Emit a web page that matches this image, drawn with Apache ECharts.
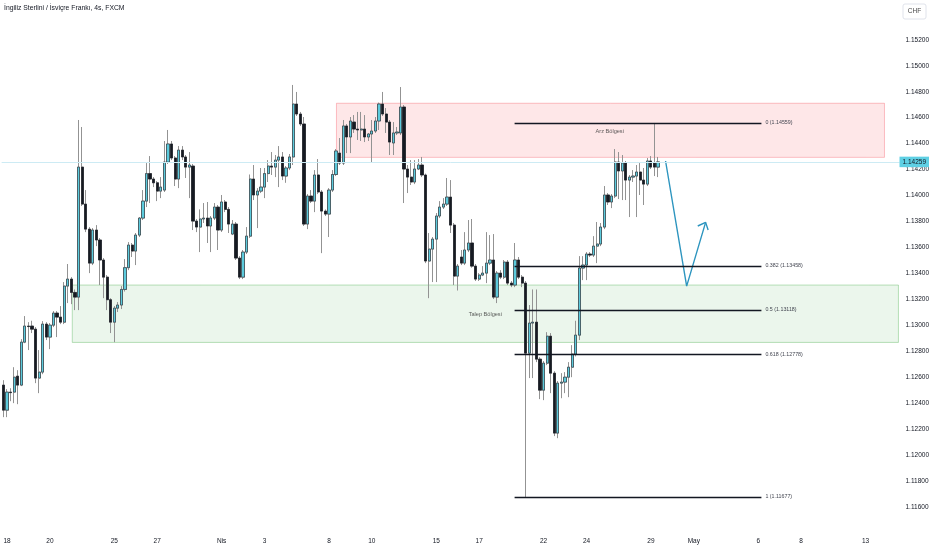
<!DOCTYPE html>
<html>
<head>
<meta charset="utf-8">
<script src="https://cdn.jsdelivr.net/npm/echarts@6/dist/echarts.min.js"></script>
<style>html,body{margin:0;padding:0;background:#fff}#c{width:932px;height:550px}</style>
</head>
<body>
<div id="c"></div>
<script>
const titleText = 'İngiliz Sterlini / İsviçre Frankı, 4s, FXCM';
const days = ['15 Mar','18 Mar','19 Mar','20 Mar','21 Mar','22 Mar','25 Mar','26 Mar','27 Mar','28 Mar','29 Mar',
  '1 Apr','2 Apr','3 Apr','4 Apr','5 Apr','8 Apr','9 Apr','10 Apr','11 Apr','12 Apr','15 Apr','16 Apr','17 Apr','18 Apr','19 Apr',
  '22 Apr','23 Apr','24 Apr','25 Apr','26 Apr','29 Apr','30 Apr','1 May','2 May','3 May','6 May','7 May','8 May','9 May','10 May',
  '13 May','14 May','15 May'];
const hours = ['00:00','04:00','08:00','12:00','16:00','20:00'];
const tickDays  = ['18 Mar','20 Mar','25 Mar','27 Mar','1 Apr','3 Apr','8 Apr','10 Apr','15 Apr','17 Apr','22 Apr','24 Apr','29 Apr','1 May','6 May','8 May','13 May'];
const tickTexts = ['18','20','25','27','Nis','3','8','10','15','17','22','24','29','May','6','8','13'];
const yTicks = {min: 1.114, step: 0.002, labelFrom: 1.116, labelTo: 1.152};

const opens = [1.12539,1.12346,1.12485,1.12485,1.12608,1.12539,1.12870,1.12994,1.12994,1.12970,1.12593,1.12639,1.13009,1.12909,1.13001,1.13094,1.13063,1.13024,1.13302,1.13356,1.13253,1.13217,1.14219,1.13934,1.13741,1.13479,1.13734,1.13657,1.13503,1.13371,1.13197,1.13024,1.13132,1.13156,1.13276,1.13444,1.13618,1.13572,1.13695,1.13826,1.13957,1.14169,1.14127,1.14098,1.14034,1.14042,1.14258,1.14397,1.14289,1.14127,1.14350,1.14297,1.14219,1.14227,1.13803,1.13757,1.13819,1.13826,1.13765,1.13826,1.13911,1.13734,1.13950,1.13893,1.13703,1.13780,1.13518,1.13371,1.13564,1.13687,1.14127,1.14004,1.14034,1.14065,1.14169,1.14227,1.14219,1.14273,1.14297,1.14150,1.14212,1.14297,1.14705,1.14628,1.14551,1.13780,1.13996,1.13957,1.14158,1.14027,1.13880,1.13857,1.14042,1.14162,1.14327,1.14250,1.14536,1.14451,1.14566,1.14512,1.14505,1.14512,1.14451,1.14474,1.14497,1.14574,1.14705,1.14628,1.14566,1.14405,1.14482,1.14482,1.14682,1.14204,1.14142,1.14104,1.14204,1.14235,1.14158,1.13495,1.13587,1.13664,1.13842,1.13911,1.13934,1.13988,1.13772,1.13379,1.13526,1.13479,1.13580,1.13634,1.13456,1.13356,1.13387,1.13402,1.13479,1.13503,1.13217,1.13402,1.13371,1.13487,1.13325,1.13310,1.13503,1.13371,1.13325,1.12785,1.13017,1.13024,1.12739,1.12500,1.12708,1.12916,1.12631,1.12169,1.12554,1.12562,1.12600,1.12677,1.12778,1.12924,1.13441,1.13464,1.13549,1.13541,1.13610,1.13626,1.13757,1.14004,1.13950,1.13996,1.14258,1.14189,1.14250,1.14119,1.14142,1.14150,1.14181,1.14119,1.14088,1.14266,1.14250,1.14219];
const closes = [1.12346,1.12485,1.12481,1.12600,1.12539,1.12870,1.12994,1.12990,1.12970,1.12593,1.12639,1.13009,1.12909,1.13001,1.13094,1.13063,1.13024,1.13302,1.13356,1.13253,1.13217,1.14219,1.13934,1.13741,1.13479,1.13734,1.13657,1.13503,1.13371,1.13197,1.13024,1.13132,1.13156,1.13276,1.13444,1.13618,1.13572,1.13695,1.13826,1.13957,1.14169,1.14127,1.14098,1.14034,1.14065,1.14258,1.14397,1.14289,1.14127,1.14350,1.14297,1.14219,1.14235,1.13803,1.13757,1.13819,1.13826,1.13765,1.13826,1.13911,1.13734,1.13950,1.13893,1.13780,1.13780,1.13518,1.13371,1.13564,1.13687,1.14127,1.14004,1.14034,1.14065,1.14169,1.14227,1.14219,1.14273,1.14297,1.14150,1.14212,1.14297,1.14705,1.14628,1.14551,1.13780,1.13996,1.13957,1.14158,1.14027,1.13880,1.13857,1.14042,1.14162,1.14343,1.14250,1.14536,1.14451,1.14574,1.14512,1.14505,1.14512,1.14451,1.14474,1.14497,1.14574,1.14705,1.14628,1.14566,1.14412,1.14482,1.14489,1.14682,1.14204,1.14142,1.14104,1.14204,1.14235,1.14158,1.13495,1.13587,1.13664,1.13842,1.13911,1.13934,1.13988,1.13772,1.13379,1.13456,1.13479,1.13580,1.13634,1.13456,1.13356,1.13387,1.13402,1.13479,1.13503,1.13217,1.13402,1.13371,1.13487,1.13325,1.13310,1.13503,1.13371,1.13325,1.12785,1.13017,1.13024,1.12739,1.12500,1.12708,1.12916,1.12631,1.12169,1.12554,1.12562,1.12600,1.12677,1.12778,1.12924,1.13441,1.13464,1.13549,1.13541,1.13610,1.13626,1.13757,1.14004,1.13950,1.13996,1.14258,1.14189,1.14250,1.14119,1.14142,1.14150,1.14181,1.14119,1.14088,1.14266,1.14219,1.14219,1.14259];
const lows   = [1.12292,1.12292,1.12415,1.12400,1.12392,1.12531,1.12862,1.12809,1.12940,1.12554,1.12477,1.12623,1.12886,1.12816,1.12986,1.12909,1.13009,1.13009,1.13171,1.13163,1.13117,1.13117,1.13919,1.13718,1.13402,1.13464,1.13610,1.13310,1.13209,1.13117,1.12940,1.12870,1.13102,1.13125,1.13260,1.13425,1.13526,1.13464,1.13680,1.13811,1.13911,1.13942,1.14065,1.13957,1.13980,1.14027,1.14243,1.14273,1.14073,1.14057,1.14273,1.14135,1.13980,1.13734,1.13718,1.13564,1.13788,1.13634,1.13564,1.13811,1.13580,1.13719,1.13872,1.13711,1.13695,1.13503,1.13356,1.13356,1.13549,1.13672,1.13965,1.13749,1.14019,1.13980,1.14104,1.14158,1.14142,1.14065,1.14119,1.14098,1.14196,1.14235,1.14613,1.14536,1.13765,1.13741,1.13942,1.13872,1.14011,1.13556,1.13842,1.13680,1.14027,1.14150,1.14235,1.14235,1.14327,1.14327,1.14482,1.14428,1.14420,1.14412,1.14420,1.14258,1.14482,1.14505,1.14613,1.14482,1.14312,1.14312,1.14466,1.14466,1.13942,1.14019,1.14081,1.14088,1.14196,1.14142,1.13479,1.13209,1.13333,1.13333,1.13826,1.13896,1.13919,1.13711,1.13310,1.13268,1.13464,1.13464,1.13564,1.13444,1.13341,1.13341,1.13379,1.13325,1.13464,1.13202,1.13171,1.13356,1.13356,1.13310,1.13294,1.13294,1.13356,1.13294,1.11677,1.12593,1.12593,1.12716,1.12431,1.12423,1.12693,1.12477,1.12146,1.12130,1.12438,1.12477,1.12446,1.12600,1.12760,1.12886,1.13348,1.13348,1.13526,1.13526,1.13479,1.13610,1.13741,1.13927,1.13903,1.13980,1.13973,1.13965,1.13965,1.13834,1.14104,1.13834,1.14004,1.13927,1.14073,1.14204,1.14150,1.14142];
const highs  = [1.12577,1.12508,1.12515,1.12677,1.12654,1.12893,1.13071,1.13024,1.13035,1.12986,1.12809,1.13032,1.13024,1.13017,1.13109,1.13109,1.13148,1.13333,1.13472,1.13371,1.13276,1.14582,1.14528,1.14042,1.13757,1.13749,1.13772,1.13672,1.13518,1.13387,1.13209,1.13148,1.13179,1.13302,1.13510,1.13641,1.13634,1.13711,1.13834,1.14042,1.14250,1.14304,1.14142,1.14111,1.14142,1.14420,1.14505,1.14420,1.14304,1.14381,1.14381,1.14312,1.14335,1.14243,1.13819,1.13893,1.13942,1.13950,1.13842,1.13942,1.13927,1.14004,1.13965,1.13911,1.13811,1.13796,1.13533,1.13580,1.13757,1.14162,1.14235,1.14057,1.14212,1.14212,1.14273,1.14335,1.14312,1.14381,1.14335,1.14227,1.14320,1.14852,1.14798,1.14644,1.14605,1.14011,1.14042,1.14196,1.14281,1.14042,1.13893,1.14057,1.14196,1.14358,1.14443,1.14582,1.14551,1.14605,1.14620,1.14644,1.14644,1.14620,1.14482,1.14582,1.14605,1.14716,1.14798,1.14674,1.14582,1.14566,1.14528,1.14836,1.14697,1.14235,1.14273,1.14273,1.14281,1.14297,1.14169,1.13711,1.13680,1.13865,1.13957,1.13980,1.14135,1.14119,1.13788,1.13472,1.13580,1.13718,1.13811,1.13819,1.13472,1.13402,1.13456,1.13718,1.13695,1.13703,1.13418,1.13425,1.13503,1.13503,1.13341,1.13634,1.13526,1.13387,1.13341,1.13156,1.13276,1.13276,1.12754,1.12724,1.12947,1.12940,1.12646,1.12570,1.12631,1.12639,1.12716,1.12847,1.13035,1.13533,1.13533,1.13564,1.13564,1.13687,1.13796,1.13788,1.14073,1.14019,1.14011,1.14358,1.14335,1.14312,1.14266,1.14158,1.14196,1.14235,1.14250,1.14212,1.14289,1.14304,1.14559,1.14297];

// annotations (x in bar slots of the chart, y in price)
const supplyZone = {x0: 93.1, x1: 246.3, top: 1.14711, bottom: 1.14294, name: 'Arz Bölgesi', labelX: 169.5, labelY: 1.14497};
const demandZone = {x0: 19.25, x1: 250.2, top: 1.13310, bottom: 1.12868, name: 'Talep Bölgesi', labelX: 134.7, labelY: 1.13086};
const fibRatios = ['0','0.382','0.5','0.618','1'];
const fibPrices = [1.14559, 1.13458, 1.13118, 1.12778, 1.11677];
const fibStart = 142.9, fibEnd = 211.9;
const arrowX = [185.1, 191.0, 196.3];
const arrowY = [1.14266, 1.13302, 1.13793];
const arrowHeadX = [194.1, 196.3, 197.0];
const arrowHeadY = [1.13765, 1.13793, 1.13734];

const N = 251, slot = 3.579, leftPad = 1.63;
const categories = [];
categories.push(days[0] + ' 20:00');
for (let d = 1; d < days.length; d++) for (const h of hours) categories.push(days[d] + ' ' + h);
categories.length = N;

const candleData = opens.map((o, j) => [o, closes[j], lows[j], highs[j]]);
const bodyData = opens.map((o, j) => [o, closes[j], Math.min(o, closes[j]), Math.max(o, closes[j])]);
const lastPrice = closes[closes.length - 1];

const FONT = 'Liberation Sans';
const chart = echarts.init(document.getElementById('c'), null, {renderer: 'canvas'});
const gridRight = 932 - leftPad - N * slot;
const yMax = 1.155067;

chart.setOption({
  animation: false,
  backgroundColor: '#ffffff',
  textStyle: {fontFamily: FONT},
  title: {text: titleText, left: 4, top: 5, padding: 0,
    textStyle: {fontSize: 6.8, fontWeight: 'normal', color: '#131722', fontFamily: FONT}},
  grid: {left: leftPad, right: gridRight, top: 0, bottom: 17.1, containLabel: false},
  xAxis: [{
    type: 'category', data: categories, boundaryGap: true,
    axisLine: {show: false}, axisTick: {show: false}, splitLine: {show: false},
    axisLabel: {
      interval: (idx, val) => val.endsWith('00:00') && tickDays.indexOf(val.slice(0, -6)) >= 0,
      formatter: val => { const i = tickDays.indexOf(val.slice(0, -6)); return i >= 0 ? tickTexts[i] : ''; },
      fontSize: 6.5, color: '#131722', margin: 5, fontFamily: FONT
    }
  }, {
    type: 'value', min: -0.5, max: N - 0.5, show: false
  }],
  yAxis: {
    type: 'value', position: 'right', min: yTicks.min, max: yMax, interval: yTicks.step, scale: true,
    axisLine: {show: false}, axisTick: {show: false}, splitLine: {show: false},
    axisLabel: {
      formatter: v => (v < yTicks.labelFrom - 0.0005 || v > yTicks.labelTo + 0.0005) ? '' : v.toFixed(5),
      fontSize: 6.5, color: '#131722', margin: 6, align: 'left', fontFamily: FONT,
      showMaxLabel: false
    }
  },
  graphic: [
    {type: 'rect', shape: {x: 903, y: 4, width: 23, height: 15, r: 2}, style: {fill: '#ffffff', stroke: '#e0e3eb', lineWidth: 1}},
    {type: 'text', style: {text: 'CHF', x: 914.5, y: 11.5, textAlign: 'center', textVerticalAlign: 'middle', fontSize: 6.5, fill: '#4a4a4a', fontFamily: FONT}}
  ],
  series: [
    {
      name: 'wicks', type: 'candlestick', xAxisIndex: 0, data: candleData, barWidth: 2.7,
      itemStyle: {color: '#939393', color0: '#939393', borderColor: '#939393', borderColor0: '#939393', borderWidth: 1}
    },
    {
      name: 'bodies', type: 'candlestick', xAxisIndex: 0, data: bodyData, barWidth: 2.7,
      itemStyle: {color: '#5ccbdd', color0: '#161a22', borderColor: '#2b2f36', borderColor0: '#161a22', borderWidth: 0.6}
    },
    {
      name: 'arrow', type: 'line', xAxisIndex: 1, symbol: 'none',
      data: arrowX.map((x, j) => [x, arrowY[j]]),
      lineStyle: {color: '#2d95bf', width: 1.4},
      markArea: {
        silent: true,
        data: [
          [{coord: [supplyZone.x0, supplyZone.top], itemStyle: {color: 'rgba(247,82,95,0.14)', borderColor: 'rgba(247,82,95,0.35)', borderWidth: 1}},
           {coord: [supplyZone.x1, supplyZone.bottom]}],
          [{coord: [demandZone.x0, demandZone.top], itemStyle: {color: 'rgba(76,175,80,0.11)', borderColor: 'rgba(76,175,80,0.38)', borderWidth: 1}},
           {coord: [demandZone.x1, demandZone.bottom]}]
        ]
      },
      markLine: {
        silent: true, symbol: ['none', 'none'],
        data: fibPrices.map((p, j) => [
          {coord: [fibStart, p], lineStyle: {color: '#131722', width: 1.3, type: 'solid'},
           label: {show: true, position: 'end', distance: 4, formatter: fibRatios[j] + ' (' + p.toFixed(5) + ')',
                   fontSize: 5.3, color: '#434651', fontFamily: FONT}},
          {coord: [fibEnd, p]}
        ]).concat([[
          {coord: [-0.5, lastPrice], lineStyle: {color: '#cdebf4', width: 1, type: 'solid'},
           label: {show: true, position: 'end', distance: 0, formatter: lastPrice.toFixed(5),
                   backgroundColor: '#5fd0e4', color: '#131722', padding: [2, 3, 1.5, 3], fontSize: 6.5, fontFamily: FONT}},
          {coord: [N - 0.5, lastPrice]}
        ]])
      }
    },
    {
      name: 'arrowHead', type: 'line', xAxisIndex: 1, symbol: 'none',
      data: arrowHeadX.map((x, j) => [x, arrowHeadY[j]]),
      lineStyle: {color: '#2d95bf', width: 1.4}
    },
    {
      name: 'zoneLabels', type: 'scatter', xAxisIndex: 1, symbolSize: 0,
      data: [[supplyZone.labelX, supplyZone.labelY, supplyZone.name], [demandZone.labelX, demandZone.labelY, demandZone.name]],
      label: {show: true, position: 'inside', formatter: p => p.data[2], fontSize: 5.6, color: '#333333', fontFamily: FONT}
    }
  ]
});
</script>
</body>
</html>
